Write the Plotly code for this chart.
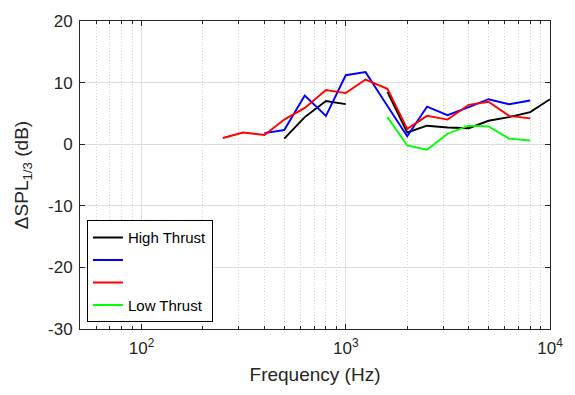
import plotly.graph_objects as go

freq_black = [500, 630, 800, 1000]
black_a = [0.9, 4.4, 7.0, 6.5]
freq_black2 = [1600, 2000, 2500, 3150, 4000, 5000, 6300, 8000, 10000]
black_b = [8.5, 1.9, 3.0, 2.7, 2.6, 3.8, 4.4, 5.2, 7.3]

freq_blue = [400, 500, 630, 800, 1000, 1250, 1600, 2000, 2500, 3150, 4000, 5000, 6300, 8000]
blue_vals = [1.8, 2.3, 7.9, 4.6, 11.2, 11.7, 6.2, 1.3, 6.1, 4.7, 6.0, 7.3, 6.5, 7.1]

freq_red = [250, 315, 400, 500, 630, 800, 1000, 1250, 1600, 2000, 2500, 3150, 4000, 5000, 6300, 8000]
red_vals = [1.0, 1.9, 1.5, 4.0, 5.9, 8.8, 8.3, 10.5, 9.0, 2.5, 4.6, 4.0, 6.4, 6.9, 4.6, 4.2]

freq_green = [1600, 2000, 2500, 3150, 4000, 5000, 6300, 8000]
green_vals = [4.4, -0.2, -0.9, 1.7, 3.0, 2.9, 0.9, 0.6]

x_tickvals = [100, 1000, 10000]
x_ticktext = ["10<sup>2</sup>", "10<sup>3</sup>", "10<sup>4</sup>"]
x_minorvals = [60, 70, 80, 90] + [m * 100 for m in range(2, 10)] + [m * 1000 for m in range(2, 10)]
y_tickvals = [20, 10, 0, -10, -20, -30]
y_ticktext = ["20", "10", "0", "-10", "-20", "-30"]

fig = go.Figure()
# empty trace so that the base (minor-grid) axis is drawn
fig.add_trace(go.Scatter(x=[], y=[], xaxis="x", yaxis="y", showlegend=False, hoverinfo="skip"))
lw = 1.9
common = dict(mode="lines", xaxis="x2", yaxis="y")
fig.add_trace(go.Scatter(x=freq_black + [None] + freq_black2, y=black_a + [None] + black_b,
                         line=dict(color="#000000", width=lw), name="High Thrust", **common))
fig.add_trace(go.Scatter(x=freq_blue, y=blue_vals,
                         line=dict(color="#0000ff", width=lw), name=" ", **common))
fig.add_trace(go.Scatter(x=freq_red, y=red_vals,
                         line=dict(color="#ff0000", width=lw), name="  ", **common))
fig.add_trace(go.Scatter(x=freq_green, y=green_vals,
                         line=dict(color="#00ff00", width=lw), name="Low Thrust", **common))

axcol = "#262626"
font = "Liberation Sans, Arial, sans-serif"
xrange = [1.69897, 4]
fig.update_layout(
    width=575, height=395,
    margin=dict(l=80, r=21, t=13, b=66),
    paper_bgcolor="white", plot_bgcolor="white",
    font=dict(family=font, size=17, color=axcol),
    showlegend=True,
    legend=dict(x=0.0148, y=0.022, xanchor="left", yanchor="bottom",
                bgcolor="white", bordercolor="#000000", borderwidth=1,
                font=dict(size=15, color="#000000"),
                tracegroupgap=0, itemwidth=30),
    xaxis=dict(type="log", range=xrange,
               tickvals=x_minorvals, showticklabels=False,
               ticks="inside", ticklen=3, tickcolor=axcol,
               showgrid=True, gridcolor="#d6d6d6", griddash="1px,2px", gridwidth=1,
               showline=True, linecolor=axcol, linewidth=1, mirror="ticks",
               zeroline=False),
    xaxis2=dict(type="log", range=xrange, overlaying="x", side="bottom",
                tickvals=x_tickvals, ticktext=x_ticktext,
                ticks="inside", ticklen=5, tickcolor=axcol,
                tickfont=dict(size=17, color=axcol), ticklabelstandoff=4,
                showgrid=True, gridcolor="#dedede", gridwidth=1,
                showline=True, linecolor=axcol, linewidth=1, mirror="ticks",
                zeroline=False,
                title=dict(text="Frequency (Hz)", font=dict(size=19, color=axcol), standoff=10)),
    yaxis=dict(range=[-30, 20], tickvals=y_tickvals, ticktext=y_ticktext,
               ticks="inside", ticklen=5, tickcolor=axcol,
               tickfont=dict(size=17, color=axcol), ticklabelstandoff=3,
               showgrid=True, gridcolor="#dedede", gridwidth=1,
               showline=True, linecolor=axcol, linewidth=1, mirror="ticks",
               zeroline=False,
               title=dict(text="ΔSPL<sub>1/3</sub> (dB)", font=dict(size=19, color=axcol), standoff=14)),
)

fig.write_html("out.html")
